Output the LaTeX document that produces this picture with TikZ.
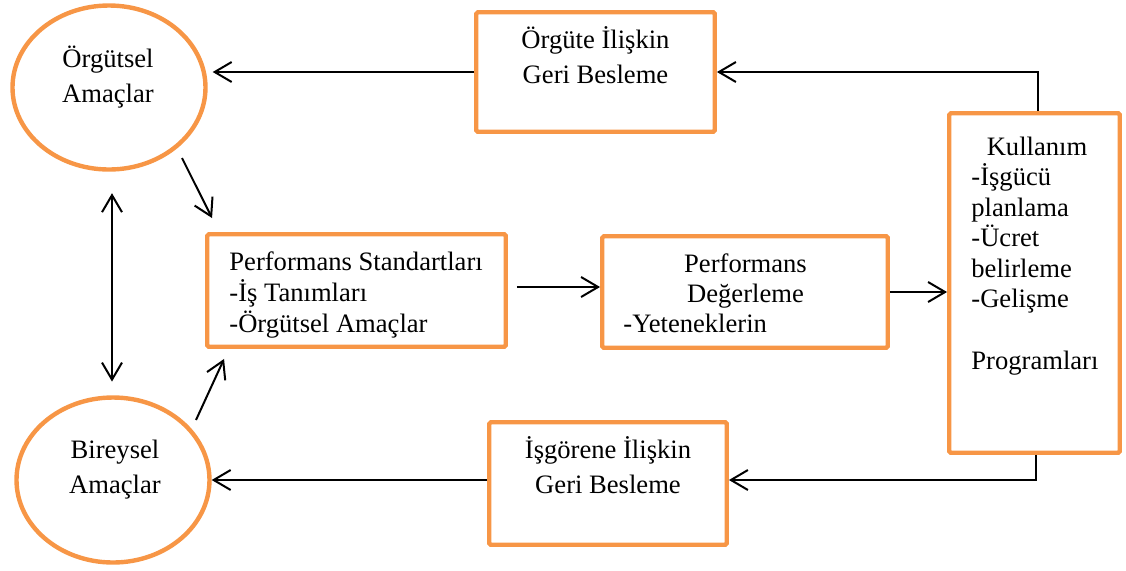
\documentclass[tikz,border=0pt]{standalone}
\usepackage{fontspec}
\setmainfont{Liberation Serif}
\usetikzlibrary{arrows.meta,shapes.geometric}
\definecolor{accentorange}{HTML}{F79646}
\tikzset{
  box/.style={draw=accentorange, line width=2.2pt, rounded corners=0.8pt, rectangle, inner sep=0pt},
  oval/.style={draw=accentorange, line width=2.2pt, ellipse, inner sep=0pt},
  arr/.style={line width=1pt, -{Straight Barb[length=8.5pt, width=10pt, line width=1pt]}},
  darr/.style={line width=1pt, {Straight Barb[length=8.5pt, width=10pt, line width=1pt]}-{Straight Barb[length=8.5pt, width=10pt, line width=1pt]}},
  ctext/.style={font=\fontsize{13.3pt}{17.5pt}\selectfont, align=center, inner sep=0pt, anchor=base},
  ltext/.style={font=\fontsize{13.3pt}{15.3pt}\selectfont, align=left, inner sep=0pt, anchor=base west},
}
\begin{document}
\begin{tikzpicture}[x=0.5pt, y=-0.5pt]
\useasboundingbox (0,0) rectangle (1126,570);
% shapes
\node[oval, minimum width=96.5pt, minimum height=82pt] (org) at (109,87.5) {};
\node[oval, minimum width=96.5pt, minimum height=82.5pt] (bir) at (113,480) {};
\node[box, minimum width=119.25pt, minimum height=59.75pt] (orgfb) at (595.5,72) {};
\node[box, minimum width=149.25pt, minimum height=56.25pt] (perfstd) at (356.5,290.5) {};
\node[box, minimum width=142.75pt, minimum height=55.75pt] (perfdeg) at (745,292) {};
\node[box, minimum width=85.25pt, minimum height=169.75pt] (kul) at (1034.5,283) {};
\node[box, minimum width=118.75pt, minimum height=61.25pt] (isg) at (608,483.5) {};
% texts (base anchor = baseline of the last line)
\node[ctext] (orgtxt) at (108,102) {Örgütsel\\Amaçlar};
\node[ctext] (birtxt) at (115,493) {Bireysel\\Amaçlar};
\node[ctext] (orgfbtxt) at (595.5,83) {Örgüte İlişkin\\Geri Besleme};
\node[ltext] (perfstdtxt) at (229,332) {Performans Standartları\\-İş Tanımları\\-Örgütsel Amaçlar};
\node[ctext, font=\fontsize{13.3pt}{15pt}\selectfont] (perfdegtxt) at (745.5,302) {Performans\\Değerleme};
\node[ltext] (perfdegitem) at (623,332) {-Yeteneklerin};
\node[ctext] (kultitle) at (1037,155) {Kullanım};
\node[ltext] (kullist) at (971,369) {-İşgücü\\planlama\\-Ücret\\belirleme\\-Gelişme\\[15.3pt]Programları};
\node[ctext] (isgtxt) at (608,493) {İşgörene İlişkin\\Geri Besleme};
% connectors
\draw[arr, shorten >=2.5pt] (orgfb.west) -- (orgfb.west -| org.east);
\draw[arr] ([xshift=1.75pt]kul.north) |- (orgfb.east);
\draw[arr] ([xshift=0.75pt]kul.south) |- ([yshift=1.75pt]isg.east);
\draw[arr] ([yshift=1.75pt]isg.west) -- ([yshift=1.75pt]isg.west -| bir.east);
\draw[arr, shorten <=4.5pt] ([yshift=1.75pt]perfstd.east) -- ([yshift=1.75pt]perfstd.east -| perfdeg.west);
\draw[arr] (perfdeg.east) -- (perfdeg.east -| kul.west);
\draw[arr] ([shift={(73,70.5)}]org.center) -- ([shift={(7,-14)}]perfstd.north west);
\draw[arr] ([shift={(83,-60)}]bir.center) -- ([shift={(19,10)}]perfstd.south west);
\draw[darr] ([shift={(3,21.5)}]org.south) -- ([shift={(-1,-13.75)}]bir.north);
\end{tikzpicture}
\end{document}
